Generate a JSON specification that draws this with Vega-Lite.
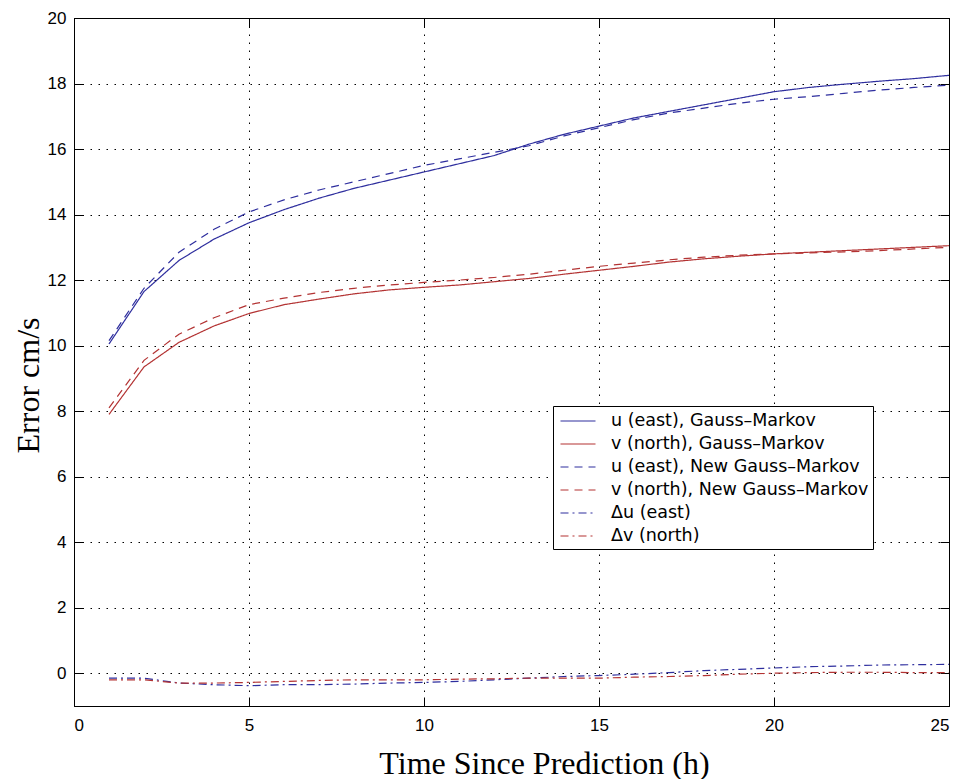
{
  "$schema": "https://vega.github.io/schema/vega-lite/v6.json",
  "width": 875,
  "height": 688,
  "autosize": {"type": "none"},
  "padding": {"left": 74, "top": 18, "right": 11, "bottom": 73},
  "background": "white",
  "config": {
    "view": {"stroke": "black", "strokeWidth": 1},
    "axis": {
      "domainColor": "black",
      "tickColor": "black",
      "labelColor": "black",
      "titleColor": "black",
      "labelFont": "Liberation Sans",
      "labelFontSize": 17,
      "titleFont": "Liberation Serif",
      "titleFontSize": 32,
      "titleFontWeight": "normal",
      "tickSize": -9,
      "gridColor": "black",
      "gridOpacity": 1,
      "gridDash": [1.5, 6.5],
      "gridWidth": 1
    }
  },
  "data": {
    "values": [
      {"t": 1, "uGM": 10.05, "vGM": 7.9, "uNew": 10.15, "vNew": 8.1, "du": -0.15, "dv": -0.2},
      {"t": 2, "uGM": 11.65, "vGM": 9.35, "uNew": 11.75, "vNew": 9.55, "du": -0.15, "dv": -0.2},
      {"t": 3, "uGM": 12.6, "vGM": 10.1, "uNew": 12.85, "vNew": 10.35, "du": -0.3, "dv": -0.3},
      {"t": 4, "uGM": 13.25, "vGM": 10.6, "uNew": 13.55, "vNew": 10.85, "du": -0.35, "dv": -0.3},
      {"t": 5, "uGM": 13.75, "vGM": 10.98, "uNew": 14.08, "vNew": 11.25, "du": -0.38, "dv": -0.28},
      {"t": 6, "uGM": 14.15, "vGM": 11.25, "uNew": 14.45, "vNew": 11.45, "du": -0.35, "dv": -0.25},
      {"t": 7, "uGM": 14.5, "vGM": 11.42, "uNew": 14.75, "vNew": 11.62, "du": -0.35, "dv": -0.22},
      {"t": 8, "uGM": 14.8, "vGM": 11.58, "uNew": 15.0, "vNew": 11.75, "du": -0.33, "dv": -0.2},
      {"t": 9, "uGM": 15.05, "vGM": 11.7, "uNew": 15.25, "vNew": 11.85, "du": -0.3, "dv": -0.2},
      {"t": 10, "uGM": 15.3, "vGM": 11.78, "uNew": 15.5, "vNew": 11.93, "du": -0.28, "dv": -0.2},
      {"t": 11, "uGM": 15.55, "vGM": 11.85, "uNew": 15.7, "vNew": 12.0, "du": -0.25, "dv": -0.18},
      {"t": 12, "uGM": 15.8, "vGM": 11.95, "uNew": 15.9, "vNew": 12.08, "du": -0.2, "dv": -0.17},
      {"t": 13, "uGM": 16.15, "vGM": 12.05, "uNew": 16.1, "vNew": 12.18, "du": -0.15, "dv": -0.15},
      {"t": 14, "uGM": 16.45, "vGM": 12.18, "uNew": 16.4, "vNew": 12.3, "du": -0.1, "dv": -0.15},
      {"t": 15, "uGM": 16.7, "vGM": 12.3, "uNew": 16.65, "vNew": 12.42, "du": -0.07, "dv": -0.15},
      {"t": 16, "uGM": 16.95, "vGM": 12.42, "uNew": 16.9, "vNew": 12.52, "du": -0.03, "dv": -0.12},
      {"t": 17, "uGM": 17.15, "vGM": 12.55, "uNew": 17.1, "vNew": 12.62, "du": 0.02, "dv": -0.1},
      {"t": 18, "uGM": 17.35, "vGM": 12.65, "uNew": 17.25, "vNew": 12.7, "du": 0.08, "dv": -0.07},
      {"t": 19, "uGM": 17.55, "vGM": 12.73, "uNew": 17.4, "vNew": 12.76, "du": 0.12, "dv": -0.03},
      {"t": 20, "uGM": 17.75, "vGM": 12.8, "uNew": 17.52, "vNew": 12.8, "du": 0.16, "dv": 0.0},
      {"t": 21, "uGM": 17.88, "vGM": 12.85, "uNew": 17.6, "vNew": 12.83, "du": 0.2, "dv": 0.02},
      {"t": 22, "uGM": 17.98, "vGM": 12.9, "uNew": 17.7, "vNew": 12.86, "du": 0.22, "dv": 0.03},
      {"t": 23, "uGM": 18.07, "vGM": 12.95, "uNew": 17.8, "vNew": 12.9, "du": 0.25, "dv": 0.03},
      {"t": 24, "uGM": 18.15, "vGM": 13.0, "uNew": 17.88, "vNew": 12.95, "du": 0.26, "dv": 0.02},
      {"t": 25, "uGM": 18.25, "vGM": 13.05, "uNew": 17.95, "vNew": 13.0, "du": 0.27, "dv": 0.02}
    ]
  },
  "transform": [
    {"fold": ["uGM", "vGM", "uNew", "vNew", "du", "dv"], "as": ["series", "value"]}
  ],
  "layer": [
    {
      "mark": {"type": "line", "strokeWidth": 1.2},
      "encoding": {
        "x": {
          "field": "t", "type": "quantitative",
          "scale": {"domain": [0, 25], "nice": false},
          "axis": {"values": [0, 5, 10, 15, 20, 25], "title": "Time Since Prediction (h)", "grid": true, "labelPadding": 20, "titleX": 470, "titleY": 67, "titleBaseline": "alphabetic"}
        },
        "y": {
          "field": "value", "type": "quantitative",
          "scale": {"domain": [-1, 20], "nice": false, "zero": false},
          "axis": {"values": [0, 2, 4, 6, 8, 10, 12, 14, 16, 18, 20], "title": "Error cm/s", "grid": true, "labelPadding": 17, "titleX": -36, "titleY": 367, "titleBaseline": "alphabetic"}
        },
        "color": {
          "field": "series", "type": "nominal",
          "scale": {"domain": ["uGM", "vGM", "uNew", "vNew", "du", "dv"], "range": ["#2e2e9e", "#b33333", "#2e2e9e", "#b33333", "#2e2e9e", "#b33333"]},
          "legend": {
            "title": null,
            "orient": "none",
            "legendX": 479,
            "legendY": 388,
            "strokeColor": "black",
            "fillColor": "white",
            "padding": 4,
            "symbolType": "M-1.75,0H1.75",
            "symbolSize": 400,
            "symbolStrokeWidth": 1.2,
            "symbolOffset": 10,
            "labelFont": "DejaVu Sans",
            "labelFontSize": 17.5,
            "labelColor": "black",
            "labelLimit": 400,
            "rowPadding": 3,
            "labelOffset": 22,
            "encode": {"symbols": {"update": {"stroke": {"scale": "color", "field": "value"}}}},
            "labelExpr": "datum.label == 'uGM' ? 'u (east), Gauss–Markov' : datum.label == 'vGM' ? 'v (north), Gauss–Markov' : datum.label == 'uNew' ? 'u (east), New Gauss–Markov' : datum.label == 'vNew' ? 'v (north), New Gauss–Markov' : datum.label == 'du' ? 'Δu (east)' : 'Δv (north)'"
          }
        },
        "strokeDash": {
          "field": "series", "type": "nominal",
          "scale": {"domain": ["uGM", "vGM", "uNew", "vNew", "du", "dv"], "range": [[1, 0], [1, 0], [8, 6], [8, 6], [8, 4, 2, 4], [8, 4, 2, 4]]},
          "legend": {
            "title": null,
            "orient": "none",
            "legendX": 479,
            "legendY": 388,
            "strokeColor": "black",
            "fillColor": "white",
            "padding": 4,
            "symbolType": "M-1.75,0H1.75",
            "symbolSize": 400,
            "symbolStrokeWidth": 1.2,
            "symbolOffset": 10,
            "labelFont": "DejaVu Sans",
            "labelFontSize": 17.5,
            "labelColor": "black",
            "labelLimit": 400,
            "rowPadding": 3,
            "labelOffset": 22,
            "encode": {"symbols": {"update": {"stroke": {"scale": "color", "field": "value"}}}},
            "labelExpr": "datum.label == 'uGM' ? 'u (east), Gauss–Markov' : datum.label == 'vGM' ? 'v (north), Gauss–Markov' : datum.label == 'uNew' ? 'u (east), New Gauss–Markov' : datum.label == 'vNew' ? 'v (north), New Gauss–Markov' : datum.label == 'du' ? 'Δu (east)' : 'Δv (north)'"
          }
        }
      }
    },
    {
      "mark": {"type": "line", "opacity": 0},
      "encoding": {
        "x": {
          "field": "t", "type": "quantitative",
          "scale": {"domain": [0, 25], "nice": false},
          "axis": {"orient": "top", "values": [0, 5, 10, 15, 20, 25], "labels": false, "title": null, "grid": false}
        },
        "y": {
          "field": "value", "type": "quantitative",
          "scale": {"domain": [-1, 20], "nice": false, "zero": false},
          "axis": {"orient": "right", "values": [0, 2, 4, 6, 8, 10, 12, 14, 16, 18, 20], "labels": false, "title": null, "grid": false}
        }
      }
    }
  ],
  "resolve": {"axis": {"x": "independent", "y": "independent"}}
}
